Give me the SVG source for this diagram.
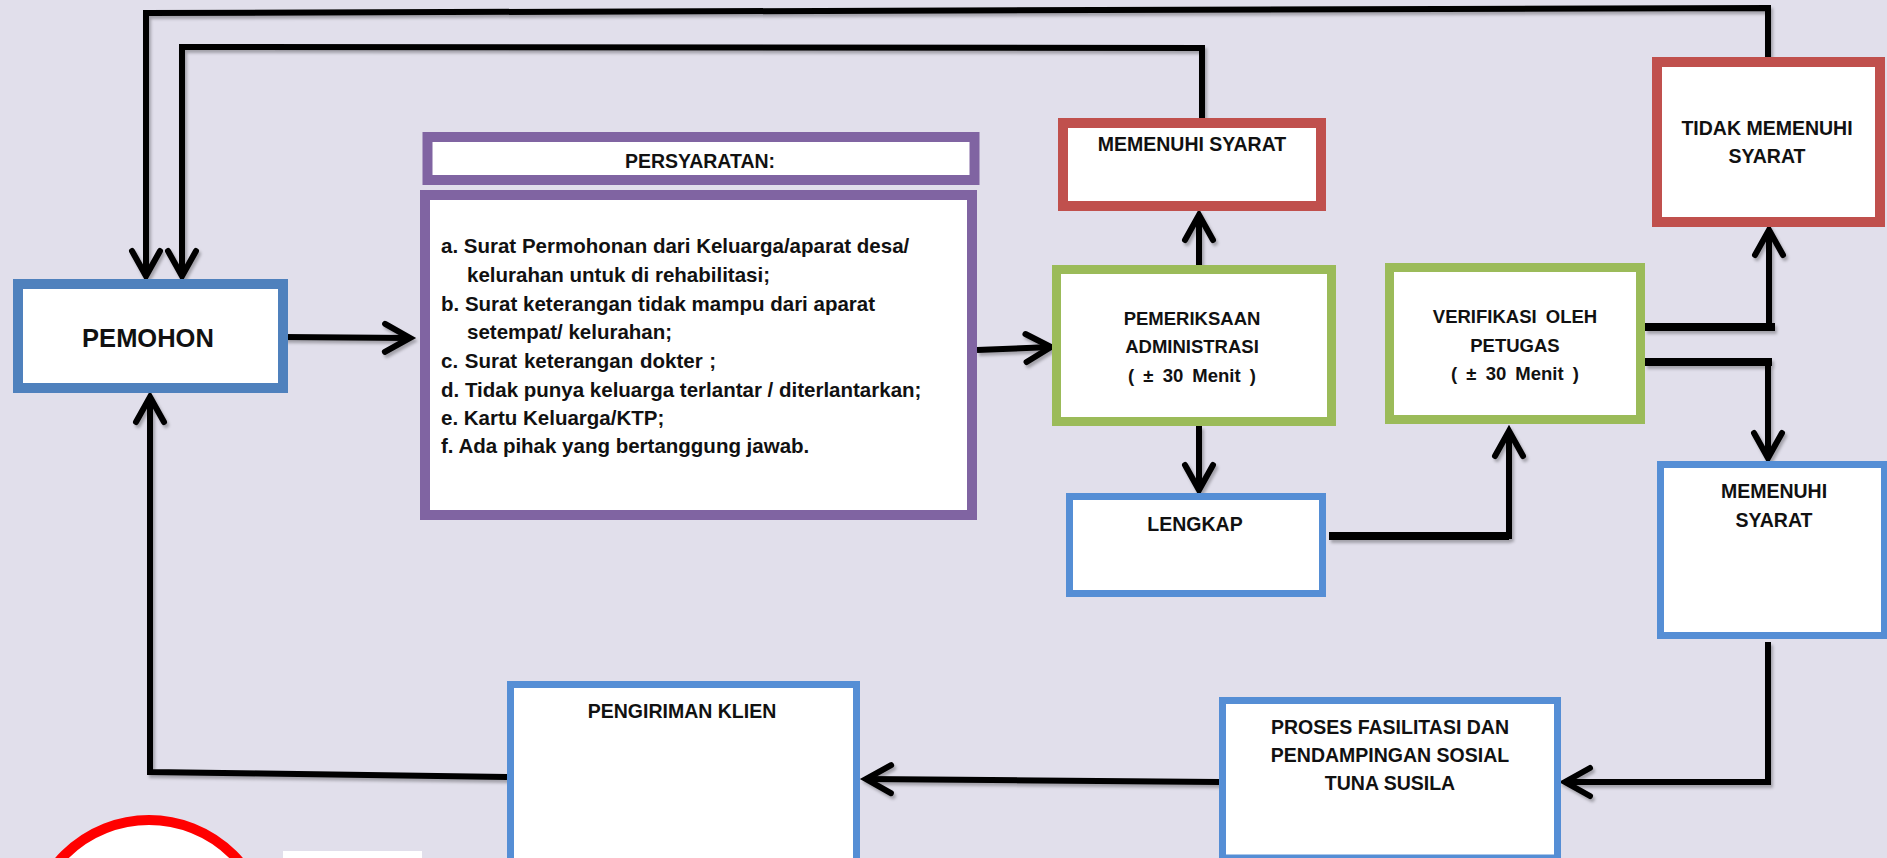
<svg xmlns="http://www.w3.org/2000/svg" width="1887" height="858" viewBox="0 0 1887 858">
  <style>
    .box { fill: #ffffff; }
    .blue1 { stroke: #4F81BD; stroke-width: 10; }
    .blue2 { stroke: #558ED5; stroke-width: 7; }
    .purple { stroke: #8064A2; stroke-width: 10; }
    .red { stroke: #C0504D; stroke-width: 10; }
    .green { stroke: #9BBB59; stroke-width: 9; }
    text { font-family: "Liberation Sans", Arial, sans-serif; font-weight: bold; fill: #111111; }
    .lbl { font-size: 19.5px; text-anchor: middle; }
    .sm { font-size: 18.5px; }
    .big { font-size: 25.5px; text-anchor: middle; }
    .list { font-size: 20.5px; }
    .wire { fill: none; stroke: #000000; stroke-width: 6; stroke-linejoin: miter; }
    .wire-thick { fill: none; stroke: #000000; stroke-width: 8; }
  </style>
  <defs>
    <marker id="arrow" markerUnits="userSpaceOnUse" viewBox="-32 -20 40 40" refX="0" refY="0" markerWidth="40" markerHeight="40" orient="auto">
      <path d="M -25 -14 L 0 0 L -25 14" fill="none" stroke="#000000" stroke-width="6" stroke-linecap="round" stroke-linejoin="miter"/>
    </marker>
    <filter id="shadow" x="-5%" y="-5%" width="110%" height="110%">
      <feDropShadow dx="2" dy="3" stdDeviation="1.5" flood-color="#000000" flood-opacity="0.28"/>
    </filter>
  </defs>

  <!-- page background -->
  <rect x="0" y="0" width="1887" height="858" fill="#E1DFEB"/>

  <!-- connectors -->
  <g id="connectors" filter="url(#shadow)">
    <path class="wire" d="M1768 58 L1768 8 L146 13 L146 276" marker-end="url(#arrow)"/>
    <path class="wire" d="M1202 119 L1202 48 L182 47 L182 276" marker-end="url(#arrow)"/>
    <path class="wire" d="M284 337 L410 338" marker-end="url(#arrow)"/>
    <path class="wire" d="M977 350 L1051 347" marker-end="url(#arrow)"/>
    <path class="wire" d="M1199 265 L1199 215" marker-end="url(#arrow)"/>
    <path class="wire" d="M1199 426 L1199 490" marker-end="url(#arrow)"/>
    <path class="wire-thick" d="M1329 536 L1509 536"/>
    <path class="wire" d="M1509 539 L1509 431" marker-end="url(#arrow)"/>
    <path class="wire-thick" d="M1645 327 L1775 327"/>
    <path class="wire" d="M1769 330 L1769 230" marker-end="url(#arrow)"/>
    <path class="wire-thick" d="M1645 362 L1772 362"/>
    <path class="wire" d="M1768 359 L1768 458" marker-end="url(#arrow)"/>
    <path class="wire" d="M1768 642 L1768 782 L1565 782" marker-end="url(#arrow)"/>
    <path class="wire" d="M1219 782 L866 779" marker-end="url(#arrow)"/>
    <path class="wire" d="M507 777 L150 772 L150 397" marker-end="url(#arrow)"/>
  </g>

  <!-- applicant -->
  <g id="pemohon">
    <rect class="box blue1" x="18" y="284" width="265" height="104"/>
    <text class="big" x="148" y="347">PEMOHON</text>
  </g>

  <!-- requirements header -->
  <g id="persyaratan-header">
    <rect class="box purple" x="427.5" y="137" width="547" height="43"/>
    <text class="lbl" x="700" y="168" font-size="19">PERSYARATAN:</text>
  </g>

  <!-- requirements list -->
  <g id="persyaratan-list">
    <rect class="box purple" x="425" y="195" width="547" height="320"/>
    <text class="list" x="441" y="253">a. Surat Permohonan dari Keluarga/aparat desa/</text>
    <text class="list" x="467" y="282">kelurahan untuk di rehabilitasi;</text>
    <text class="list" x="441" y="311">b. Surat keterangan tidak mampu dari aparat</text>
    <text class="list" x="467" y="339">setempat/ kelurahan;</text>
    <text class="list" x="441" y="368" word-spacing="1">c. Surat keterangan dokter ;</text>
    <text class="list" x="441" y="397">d. Tidak punya keluarga terlantar / diterlantarkan;</text>
    <text class="list" x="441" y="425">e. Kartu Keluarga/KTP;</text>
    <text class="list" x="441" y="453">f. Ada pihak yang bertanggung jawab.</text>
  </g>

  <!-- administrative check -->
  <g id="pemeriksaan">
    <rect class="box green" x="1056.5" y="269.5" width="275" height="152"/>
    <text class="lbl sm" x="1192" y="325">PEMERIKSAAN</text>
    <text class="lbl sm" x="1192" y="353">ADMINISTRASI</text>
    <text class="lbl sm" x="1192" y="382" word-spacing="4">( ± 30 Menit )</text>
  </g>

  <!-- eligible (after check) -->
  <g id="memenuhi-syarat-1">
    <rect class="box red" x="1063" y="123" width="258" height="83"/>
    <text class="lbl" x="1192" y="151" font-size="20">MEMENUHI SYARAT</text>
  </g>

  <!-- complete -->
  <g id="lengkap">
    <rect class="box blue2" x="1069.5" y="496.5" width="253" height="97"/>
    <text class="lbl" x="1195" y="531">LENGKAP</text>
  </g>

  <!-- staff verification -->
  <g id="verifikasi">
    <rect class="box green" x="1389.5" y="267.5" width="251" height="152"/>
    <text class="lbl sm" x="1515" y="323" word-spacing="4">VERIFIKASI OLEH</text>
    <text class="lbl sm" x="1515" y="352">PETUGAS</text>
    <text class="lbl sm" x="1515" y="380" word-spacing="4">( ± 30 Menit )</text>
  </g>

  <!-- not eligible -->
  <g id="tidak-memenuhi">
    <rect class="box red" x="1657" y="62" width="223" height="160"/>
    <text class="lbl" x="1767" y="135" font-size="20">TIDAK MEMENUHI</text>
    <text class="lbl" x="1767" y="163" font-size="20">SYARAT</text>
  </g>

  <!-- eligible (after verification) -->
  <g id="memenuhi-syarat-2">
    <rect class="box blue2" x="1660.5" y="464.5" width="224" height="171"/>
    <text class="lbl" x="1774" y="498" font-size="20.5">MEMENUHI</text>
    <text class="lbl" x="1774" y="527" font-size="20.5">SYARAT</text>
  </g>

  <!-- facilitation process -->
  <g id="proses">
    <rect class="box blue2" x="1222.5" y="700.5" width="335" height="157.5"/>
    <text class="lbl" x="1390" y="734">PROSES FASILITASI DAN</text>
    <text class="lbl" x="1390" y="762">PENDAMPINGAN SOSIAL</text>
    <text class="lbl" x="1390" y="790">TUNA SUSILA</text>
  </g>

  <!-- client dispatch -->
  <g id="pengiriman">
    <rect class="box blue2" x="510.5" y="684.5" width="346" height="177"/>
    <text class="lbl" x="682" y="718" font-size="20">PENGIRIMAN KLIEN</text>
  </g>

  <!-- partial shapes along the bottom edge -->
  <circle cx="149" cy="939" r="119" fill="#ffffff" stroke="#FF0000" stroke-width="10"/>
  <rect x="283" y="851" width="139" height="7" fill="#ffffff"/>
</svg>
